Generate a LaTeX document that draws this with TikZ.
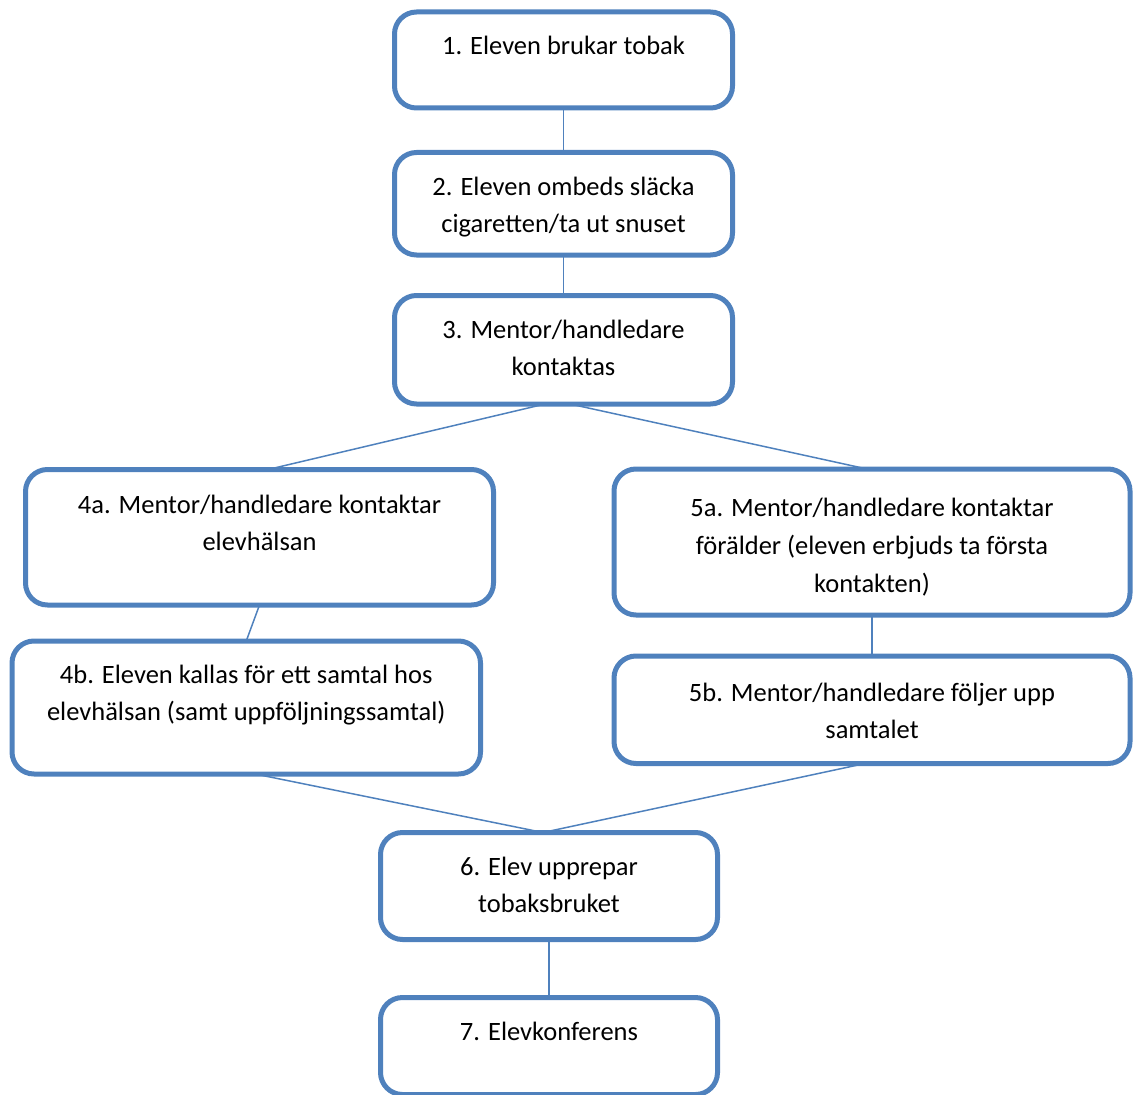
\documentclass[tikz,border=0pt]{standalone}
\usepackage{fontspec}
\setmainfont{Carlito}
\definecolor{boxblue}{HTML}{4F81BD}
\newcommand{\boxtxt}[4][17pt]{\parbox[t][#3][t]{#2}{\centering\vspace*{#1}\strut #4}}

\begin{document}
\begin{tikzpicture}[x=1pt, y=-1pt,
  box/.style={draw=boxblue, line width=5pt, rounded corners=22pt, inner sep=0pt,
    outer sep=0pt, anchor=north west, font=\fontsize{26.5}{37}\selectfont},
  link/.style={draw=boxblue, line width=1.5pt}]
\useasboundingbox (0,0) rectangle (1134,1094);

% Nodes
\node[box] (b1) at (394.5,12) {\boxtxt{338pt}{96pt}{1. Eleven brukar tobak}};
\node[box] (b2) at (394.5,152.5) {\boxtxt{338pt}{102.5pt}{2. Eleven ombeds släcka\\cigaretten/ta ut snuset}};
\node[box] (b3) at (394.5,295.5) {\boxtxt{338pt}{108.5pt}{3. Mentor/handledare\\kontaktas}};
\node[box] (b4a) at (25.5,469.5) {\boxtxt[18.5pt]{468pt}{135.5pt}{4a. Mentor/handledare kontaktar\\elevhälsan}};
\node[box] (b4b) at (12,641) {\boxtxt{468.5pt}{133pt}{4b. Eleven kallas för ett samtal hos\\elevhälsan (samt uppföljningssamtal)}};
\node[box] (b5a) at (614,469) {\boxtxt[22pt]{516pt}{146pt}{5a. Mentor/handledare kontaktar\\[1pt]förälder (eleven erbjuds ta första\\[1pt]kontakten)}};
\node[box] (b5b) at (614,656) {\boxtxt[19.5pt]{516pt}{107.5pt}{5b. Mentor/handledare följer upp\\samtalet}};
\node[box] (b6) at (380.5,832.5) {\boxtxt{337pt}{107pt}{6. Elev upprepar\\tobaksbruket}};
\node[box] (b7) at (380.5,997.5) {\boxtxt{337pt}{97pt}{7. Elevkonferens}};

% Links
\draw[link] (b1.south) -- (b2.north); % b1 --> b2
\draw[link] (b2.south) -- (b3.north); % b2 --> b3
\draw[link] ([xshift=-18.5pt]b3.south) -- ([xshift=8.5pt]b4a.north); % b3 --> b4a
\draw[link] ([xshift=6.5pt]b3.south) -- ([xshift=-5pt]b5a.north); % b3 --> b5a
\draw[link] (b4a.south) -- (b4b.north); % b4a --> b4b
\draw[link] (b5a.south) -- (b5b.north); % b5a --> b5b
\draw[link] ([xshift=9pt]b4b.south) -- ([xshift=-6pt]b6.north); % b4b --> b6
\draw[link] ([xshift=-7pt]b5b.south) -- ([xshift=-6pt]b6.north); % b5b --> b6
\draw[link] (b6.south) -- (b7.north); % b6 --> b7

\end{tikzpicture}
\end{document}
